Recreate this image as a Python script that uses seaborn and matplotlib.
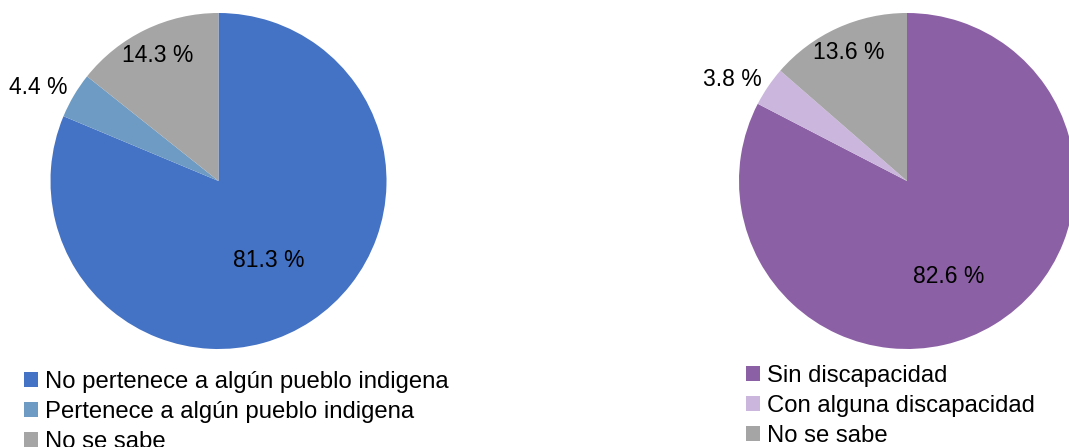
import numpy as np
import matplotlib
matplotlib.use("Agg")
import matplotlib.pyplot as plt
import seaborn as sns
from matplotlib.patches import Patch

sns.set_theme(style="white")
plt.rcParams['font.family'] = ['Liberation Sans', 'DejaVu Sans']
plt.rcParams['text.color'] = 'black'

# data
left_labels = ["No pertenece a algún pueblo indigena", "Pertenece a algún pueblo indigena", "No se sabe"]
left_values = [81.3, 4.4, 14.3]
left_colors = ["#4472C4", "#6E9BC3", "#A5A5A5"]

right_labels = ["Sin discapacidad", "Con alguna discapacidad", "No se sabe"]
right_values = [82.6, 3.8, 13.6]
right_colors = ["#8C60A5", "#CBB7DD", "#A5A5A5"]

W, H = 1069, 447
fig = plt.figure(figsize=(W / 100, H / 100), dpi=100)


def draw_pie(cx, cy, r, values, colors, labels, label_r, label_shift, leg_xy):
    ax = fig.add_axes([(cx - r) / W, (H - cy - r) / H, 2 * r / W, 2 * r / H])
    wedges, _ = ax.pie(values, colors=colors, startangle=90, counterclock=False,
                       radius=1, wedgeprops=dict(linewidth=0))
    ax.set_xlim(-1, 1)
    ax.set_ylim(-1, 1)
    ax.set_aspect('equal')
    ax.axis('off')
    for w, v, d, s in zip(wedges, values, label_r, label_shift):
        mid = np.deg2rad((w.theta1 + w.theta2) / 2 + s)
        ax.text(d * np.cos(mid), d * np.sin(mid), f"{v} %", ha='center', va='center',
                fontsize=16.5, color='black', clip_on=False)
    handles = [Patch(facecolor=c, edgecolor='none') for c in colors]
    fig.legend(handles, labels, loc='upper left', bbox_to_anchor=(leg_xy[0] / W, 1 - leg_xy[1] / H),
               frameon=False, fontsize=17.2, handlelength=0.58, handleheight=0.58,
               handletextpad=0.3, labelspacing=0.33, borderaxespad=0, borderpad=0,
               labelcolor='black')


draw_pie(218.5, 181, 168, left_values, left_colors, left_labels,
         [0.56, 1.21, 0.83], [-1.4, 3.3, 0], (24, 371))
draw_pie(907, 181, 168, right_values, right_colors, right_labels,
         [0.62, 1.2, 0.84], [-8, 4, 0], (746, 365))

fig.savefig("out.png", dpi=100)
